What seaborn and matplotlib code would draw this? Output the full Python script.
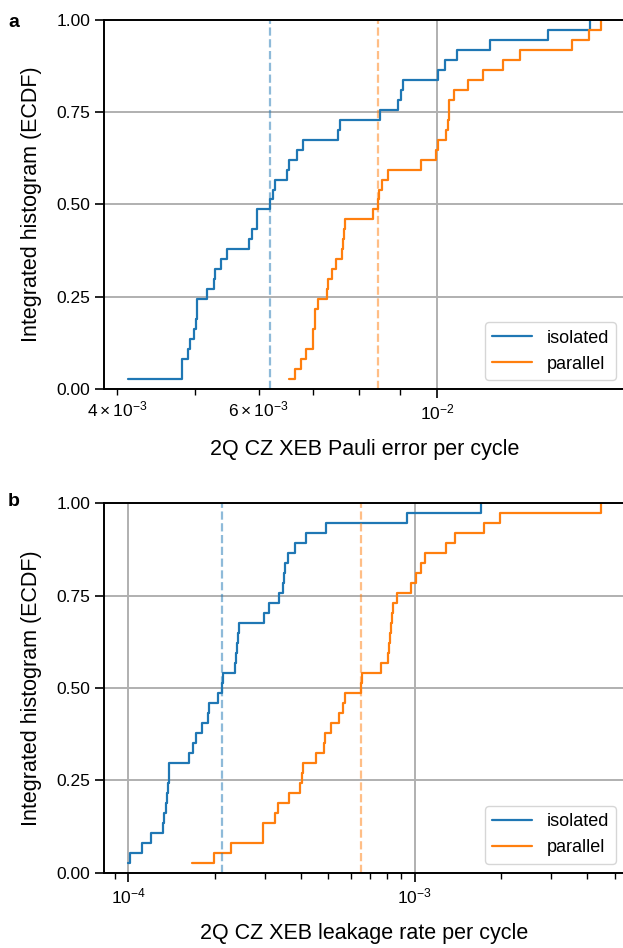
import numpy as np
import pandas as pd
import matplotlib
matplotlib.use("Agg")
import matplotlib.pyplot as plt
import seaborn as sns

# ---- data ----
pauli_isolated = [4.124e-3, 4.818e-3, 4.818e-3, 4.90e-3, 4.93e-3, 4.99e-3, 5.01e-3, 5.03e-3, 5.03e-3,
                  5.18e-3, 5.28e-3, 5.30e-3, 5.38e-3, 5.48e-3, 5.83e-3, 5.88e-3, 5.97e-3, 5.98e-3,
                  6.19e-3, 6.25e-3, 6.29e-3, 6.51e-3, 6.55e-3, 6.69e-3, 6.82e-3, 7.54e-3, 7.57e-3,
                  8.49e-3, 8.95e-3, 9.03e-3, 9.07e-3, 1.003e-2, 1.022e-2, 1.060e-2, 1.165e-2,
                  1.373e-2, 1.547e-2]
pauli_parallel = [6.54e-3, 6.66e-3, 6.78e-3, 6.87e-3, 7.01e-3, 7.02e-3, 7.05e-3, 7.06e-3, 7.12e-3,
                  7.30e-3, 7.32e-3, 7.41e-3, 7.48e-3, 7.61e-3, 7.63e-3, 7.66e-3, 7.68e-3, 8.33e-3,
                  8.45e-3, 8.46e-3, 8.54e-3, 8.68e-3, 9.56e-3, 9.98e-3, 1.003e-2, 1.025e-2,
                  1.031e-2, 1.035e-2, 1.036e-2, 1.050e-2, 1.093e-2, 1.141e-2, 1.209e-2, 1.267e-2,
                  1.470e-2, 1.546e-2, 1.60e-2]

leak_isolated = [9.94e-5, 1.014e-4, 1.113e-4, 1.197e-4, 1.318e-4, 1.333e-4, 1.354e-4, 1.369e-4,
                 1.377e-4, 1.383e-4, 1.391e-4, 1.634e-4, 1.678e-4, 1.724e-4, 1.810e-4, 1.899e-4,
                 1.919e-4, 2.052e-4, 2.126e-4, 2.136e-4, 2.353e-4, 2.380e-4, 2.405e-4, 2.418e-4,
                 2.430e-4, 2.982e-4, 3.112e-4, 3.373e-4, 3.464e-4, 3.491e-4, 3.520e-4, 3.626e-4,
                 3.815e-4, 4.181e-4, 4.913e-4, 9.43e-4, 1.701e-3]
leak_parallel = [1.670e-4, 1.994e-4, 2.279e-4, 2.948e-4, 2.965e-4, 3.266e-4, 3.338e-4, 3.635e-4,
                 3.985e-4, 4.027e-4, 4.069e-4, 4.532e-4, 4.834e-4, 4.884e-4, 5.126e-4, 5.437e-4,
                 5.646e-4, 5.706e-4, 6.511e-4, 6.543e-4, 7.648e-4, 8.065e-4, 8.130e-4, 8.222e-4,
                 8.262e-4, 8.309e-4, 8.396e-4, 8.699e-4, 9.739e-4, 1.014e-3, 1.055e-3, 1.084e-3,
                 1.284e-3, 1.380e-3, 1.743e-3, 1.983e-3, 4.496e-3]

conditions = ["isolated", "parallel"]
xlabels = ["2Q CZ XEB Pauli error per cycle", "2Q CZ XEB leakage rate per cycle"]
ylabel = "Integrated histogram (ECDF)"
panel_letters = ["a", "b"]
yticks = [0.0, 0.25, 0.5, 0.75, 1.0]

sns.set_theme(style="white")
plt.rcParams["font.family"] = ["Liberation Sans", "DejaVu Sans"]
plt.rcParams["mathtext.fontset"] = "custom"
plt.rcParams["mathtext.rm"] = "Liberation Sans"
plt.rcParams["mathtext.it"] = "Liberation Sans:italic"
plt.rcParams["mathtext.bf"] = "Liberation Sans:bold"
plt.rcParams["mathtext.default"] = "regular"
plt.rcParams["text.color"] = "black"
plt.rcParams["axes.labelcolor"] = "black"
plt.rcParams["xtick.color"] = "black"
plt.rcParams["ytick.color"] = "black"

palette = {"isolated": "#1f77b4", "parallel": "#ff7f0e"}


def ecdf_frame(iso, par):
    rows = []
    for name, vals in zip(conditions, [iso, par]):
        v = np.sort(np.asarray(vals))
        n = len(v)
        for i, x in enumerate(v):
            rows.append({"value": x, "ecdf": (i + 1) / n, "condition": name})
    return pd.DataFrame(rows)


fig = plt.figure(figsize=(6.23, 9.48), dpi=100)
ax_a = fig.add_axes([0.1669, 0.5897, 0.8363, 0.3892])
ax_b = fig.add_axes([0.1669, 0.0794, 0.8363, 0.3897])

datasets = [(pauli_isolated, pauli_parallel), (leak_isolated, leak_parallel)]
for ax, (iso, par), xl, letter in zip([ax_a, ax_b], datasets, xlabels, panel_letters):
    df = ecdf_frame(iso, par)
    ax.set_xscale("log")
    sns.lineplot(data=df, x="value", y="ecdf", hue="condition", palette=palette,
                 estimator=None, drawstyle="steps-post", linewidth=1.6, ax=ax)
    for name, vals in zip(conditions, [iso, par]):
        ax.axvline(np.median(vals), color=palette[name], ls="--", lw=1.6, alpha=0.5)
    ax.set_ylim(0, 1)
    ax.set_yticks(yticks)
    ax.yaxis.set_major_formatter(matplotlib.ticker.FormatStrFormatter("%.2f"))
    ax.grid(True, which="major", color="#b0b0b0", lw=1.4)
    ax.set_axisbelow(True)
    for s in ["left", "bottom", "top", "right"]:
        ax.spines[s].set_color("black")
        ax.spines[s].set_linewidth(1.4)
    ax.tick_params(which="major", length=6.5, width=1.2, labelsize=12.5, direction="out",
                   bottom=True, left=True, colors="black")
    ax.tick_params(which="minor", length=4.3, width=1.0, labelsize=12.5, bottom=True, colors="black")
    ax.set_xlabel(xl, fontsize=15.5, labelpad=12)
    ax.set_ylabel(ylabel, fontsize=15.5, labelpad=10)
    sns.move_legend(ax, "lower right", title=None, fontsize=13, frameon=True,
                    handlelength=2.2)
    ax.get_legend().get_frame().set_edgecolor("#cccccc")

fig.text(0.013, 0.985, "a", fontsize=14, fontweight="bold", va="top")
fig.text(0.013, 0.48, "b", fontsize=14, fontweight="bold", va="top")

fig.savefig("out.png", dpi=100)
